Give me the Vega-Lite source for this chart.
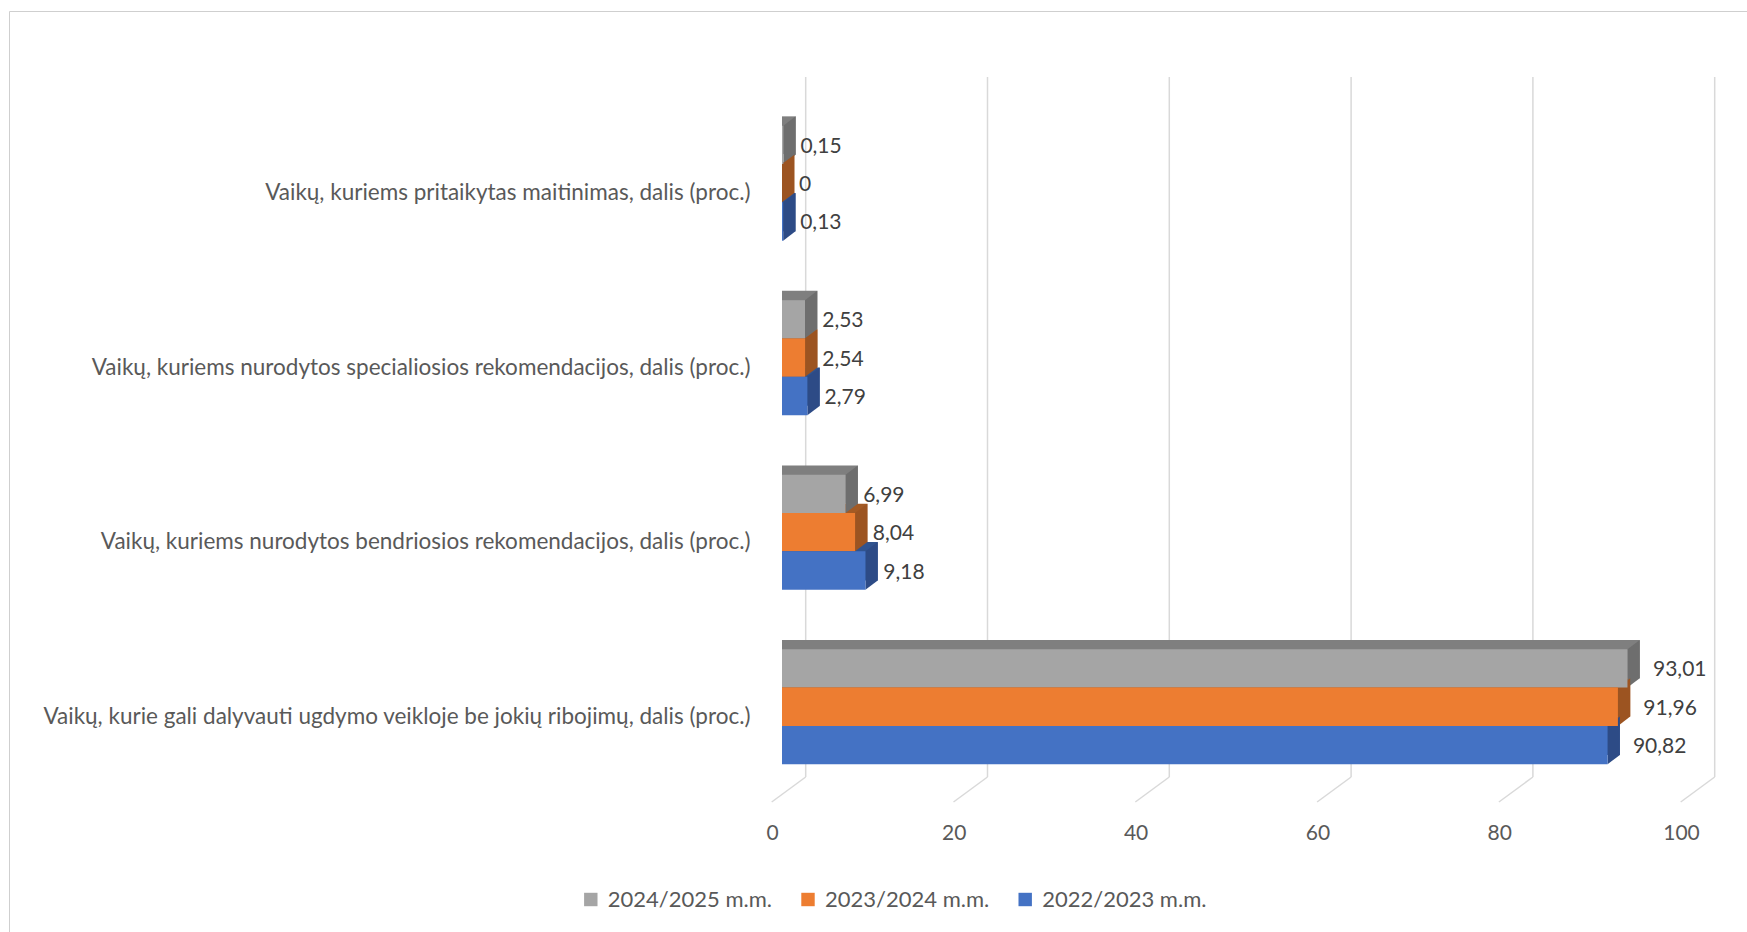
{
  "$schema": "https://vega.github.io/schema/vega-lite/v6.json",
  "width": 909,
  "height": 700,
  "padding": {"left": 8, "top": 10, "right": 0, "bottom": 0},
  "background": "white",
  "config": {
    "font": "Lato",
    "view": {"stroke": null},
    "locale": {"number": {"decimal": ",", "thousands": " ", "grouping": [3], "currency": ["", " €"]}},
    "axisY": {"domain": false, "ticks": false, "grid": false, "labelPadding": 32, "labelOffset": 10, "labelFontSize": 22.5, "labelColor": "#595959", "labelLimit": 900},
    "axisX": {"domain": false, "ticks": false, "grid": false, "labelPadding": 45, "labelOffset": -10, "labelFlush": false, "labelFontSize": 21, "labelColor": "#595959"}
  },
  "datasets": {
    "shares": [
      {"rodiklis": "Vaikų, kuriems pritaikytas maitinimas, dalis (proc.)", "metai": "2024/2025 m.m.", "value": 0.15},
      {"rodiklis": "Vaikų, kuriems pritaikytas maitinimas, dalis (proc.)", "metai": "2023/2024 m.m.", "value": 0},
      {"rodiklis": "Vaikų, kuriems pritaikytas maitinimas, dalis (proc.)", "metai": "2022/2023 m.m.", "value": 0.13},
      {"rodiklis": "Vaikų, kuriems nurodytos specialiosios rekomendacijos, dalis (proc.)", "metai": "2024/2025 m.m.", "value": 2.53},
      {"rodiklis": "Vaikų, kuriems nurodytos specialiosios rekomendacijos, dalis (proc.)", "metai": "2023/2024 m.m.", "value": 2.54},
      {"rodiklis": "Vaikų, kuriems nurodytos specialiosios rekomendacijos, dalis (proc.)", "metai": "2022/2023 m.m.", "value": 2.79},
      {"rodiklis": "Vaikų, kuriems nurodytos bendriosios rekomendacijos, dalis (proc.)", "metai": "2024/2025 m.m.", "value": 6.99},
      {"rodiklis": "Vaikų, kuriems nurodytos bendriosios rekomendacijos, dalis (proc.)", "metai": "2023/2024 m.m.", "value": 8.04},
      {"rodiklis": "Vaikų, kuriems nurodytos bendriosios rekomendacijos, dalis (proc.)", "metai": "2022/2023 m.m.", "value": 9.18},
      {"rodiklis": "Vaikų, kurie gali dalyvauti ugdymo veikloje be jokių ribojimų, dalis (proc.)", "metai": "2024/2025 m.m.", "value": 93.01},
      {"rodiklis": "Vaikų, kurie gali dalyvauti ugdymo veikloje be jokių ribojimų, dalis (proc.)", "metai": "2023/2024 m.m.", "value": 91.96},
      {"rodiklis": "Vaikų, kurie gali dalyvauti ugdymo veikloje be jokių ribojimų, dalis (proc.)", "metai": "2022/2023 m.m.", "value": 90.82}
    ],
    "ticks": [{"v": 0}, {"v": 20}, {"v": 40}, {"v": 60}, {"v": 80}, {"v": 100}]
  },
  "data": {"name": "shares"},
  "layer": [
    {
      "data": {"name": "ticks"},
      "mark": {"type": "rule", "xOffset": 23.7, "color": "#d9d9d9", "strokeWidth": 1.5},
      "encoding": {
        "x": {"field": "v", "type": "quantitative", "scale": {"domain": [0, 100], "nice": false}, "axis": null}
      }
    },
    {
      "data": {"name": "ticks"},
      "mark": {"type": "rule", "xOffset": 23.7, "x2Offset": -10.3, "y2Offset": 25, "color": "#d9d9d9", "strokeWidth": 1.5},
      "encoding": {
        "x": {"field": "v", "type": "quantitative", "scale": {"domain": [0, 100], "nice": false}, "axis": null},
        "x2": {"field": "v"},
        "y": {"value": "height"},
        "y2": {"value": "height"}
      }
    },
    {
      "mark": {"type": "bar", "xOffset": 12.3},
      "encoding": {
        "x": {"field": "value", "type": "quantitative", "stack": null, "scale": {"domain": [0, 100], "nice": false}, "axis": null},
        "y": {"field": "rodiklis", "type": "nominal", "title": null, "sort": ["Vaikų, kuriems pritaikytas maitinimas, dalis (proc.)", "Vaikų, kuriems nurodytos specialiosios rekomendacijos, dalis (proc.)", "Vaikų, kuriems nurodytos bendriosios rekomendacijos, dalis (proc.)", "Vaikų, kurie gali dalyvauti ugdymo veikloje be jokių ribojimų, dalis (proc.)"], "scale": {"paddingInner": 0.341, "paddingOuter": 0.176, "align": 0.792}},
        "yOffset": {"field": "metai", "type": "nominal", "sort": ["2024/2025 m.m.", "2023/2024 m.m.", "2022/2023 m.m."], "scale": {"type": "band", "paddingInner": 0, "paddingOuter": 0, "range": [-9.3, 105.7]}},
        "fill": {"field": "metai", "type": "nominal", "scale": {"domain": ["2024/2025 m.m.", "2023/2024 m.m.", "2022/2023 m.m."], "range": ["#7f7f7f", "#a35a24", "#30538f"]}, "legend": null}
      }
    },
    {
      "transform": [{"filter": "datum.metai === '2024/2025 m.m.'"}],
      "mark": {"type": "point", "shape": "M-0.8,-19.4L-0.8,-29.2L12.5,-29.2Z", "size": 4, "filled": true, "opacity": 1, "strokeWidth": 0, "color": "white"},
      "encoding": {
        "x": {"datum": 0, "type": "quantitative", "scale": {"domain": [0, 100], "nice": false}, "axis": null},
        "y": {"field": "rodiklis", "type": "nominal", "title": null, "sort": ["Vaikų, kuriems pritaikytas maitinimas, dalis (proc.)", "Vaikų, kuriems nurodytos specialiosios rekomendacijos, dalis (proc.)", "Vaikų, kuriems nurodytos bendriosios rekomendacijos, dalis (proc.)", "Vaikų, kurie gali dalyvauti ugdymo veikloje be jokių ribojimų, dalis (proc.)"], "scale": {"paddingInner": 0.341, "paddingOuter": 0.176, "align": 0.792}},
        "yOffset": {"field": "metai", "type": "nominal", "sort": ["2024/2025 m.m.", "2023/2024 m.m.", "2022/2023 m.m."], "scale": {"type": "band", "paddingInner": 0, "paddingOuter": 0}}
      }
    },
    {
      "mark": {"type": "point", "shape": "M0,-19.17L12.3,-28.47L12.3,9.87L0,19.17Z", "size": 4, "filled": true, "opacity": 1, "strokeWidth": 0},
      "encoding": {
        "x": {"field": "value", "type": "quantitative", "scale": {"domain": [0, 100], "nice": false}, "axis": null},
        "y": {"field": "rodiklis", "type": "nominal", "title": null, "sort": ["Vaikų, kuriems pritaikytas maitinimas, dalis (proc.)", "Vaikų, kuriems nurodytos specialiosios rekomendacijos, dalis (proc.)", "Vaikų, kuriems nurodytos bendriosios rekomendacijos, dalis (proc.)", "Vaikų, kurie gali dalyvauti ugdymo veikloje be jokių ribojimų, dalis (proc.)"], "scale": {"paddingInner": 0.341, "paddingOuter": 0.176, "align": 0.792}},
        "yOffset": {"field": "metai", "type": "nominal", "sort": ["2024/2025 m.m.", "2023/2024 m.m.", "2022/2023 m.m."], "scale": {"type": "band", "paddingInner": 0, "paddingOuter": 0}},
        "fill": {"field": "metai", "type": "nominal", "scale": {"domain": ["2024/2025 m.m.", "2023/2024 m.m.", "2022/2023 m.m."], "range": ["#6e6e6e", "#9c5421", "#2d4b86"]}, "legend": null}
      }
    },
    {
      "mark": {"type": "bar"},
      "encoding": {
        "x": {"field": "value", "type": "quantitative", "stack": null, "scale": {"domain": [0, 100], "nice": false}, "axis": {"values": [0, 20, 40, 60, 80, 100], "title": null}},
        "y": {"field": "rodiklis", "type": "nominal", "title": null, "sort": ["Vaikų, kuriems pritaikytas maitinimas, dalis (proc.)", "Vaikų, kuriems nurodytos specialiosios rekomendacijos, dalis (proc.)", "Vaikų, kuriems nurodytos bendriosios rekomendacijos, dalis (proc.)", "Vaikų, kurie gali dalyvauti ugdymo veikloje be jokių ribojimų, dalis (proc.)"], "scale": {"paddingInner": 0.341, "paddingOuter": 0.176, "align": 0.792}},
        "yOffset": {"field": "metai", "type": "nominal", "sort": ["2024/2025 m.m.", "2023/2024 m.m.", "2022/2023 m.m."], "scale": {"paddingInner": 0, "paddingOuter": 0}},
        "color": {
          "field": "metai", "type": "nominal",
          "scale": {"domain": ["2024/2025 m.m.", "2023/2024 m.m.", "2022/2023 m.m."], "range": ["#a5a5a5", "#ed7d31", "#4472c4"]},
          "legend": {
            "orient": "none", "legendX": -773, "legendY": -66, "direction": "horizontal", "columns": 3,
            "title": " ", "titleFontSize": 2, "titlePadding": 304.7,
            "padding": 570.8, "strokeColor": "#cfcfcf",
            "symbolType": "square", "symbolSize": 180, "symbolStrokeWidth": 0, "symbolOpacity": 1,
            "labelFontSize": 22, "labelColor": "#595959", "labelOffset": 6, "labelLimit": 400,
            "columnPadding": 24.2, "gridAlign": "all"
          }
        }
      }
    },
    {
      "mark": {"type": "text", "align": "left", "baseline": "middle", "dx": 17, "dy": 2, "fontSize": 21, "color": "#404040"},
      "encoding": {
        "x": {"field": "value", "type": "quantitative", "scale": {"domain": [0, 99], "nice": false}, "axis": null},
        "y": {"field": "rodiklis", "type": "nominal", "title": null, "sort": ["Vaikų, kuriems pritaikytas maitinimas, dalis (proc.)", "Vaikų, kuriems nurodytos specialiosios rekomendacijos, dalis (proc.)", "Vaikų, kuriems nurodytos bendriosios rekomendacijos, dalis (proc.)", "Vaikų, kurie gali dalyvauti ugdymo veikloje be jokių ribojimų, dalis (proc.)"], "scale": {"paddingInner": 0.341, "paddingOuter": 0.176, "align": 0.792}},
        "yOffset": {"field": "metai", "type": "nominal", "sort": ["2024/2025 m.m.", "2023/2024 m.m.", "2022/2023 m.m."], "scale": {"type": "band", "paddingInner": 0, "paddingOuter": 0}},
        "text": {"field": "value", "type": "quantitative", "format": ".2~f"}
      }
    }
  ],
  "resolve": {"scale": {"x": "independent", "yOffset": "independent", "fill": "independent"}}
}
